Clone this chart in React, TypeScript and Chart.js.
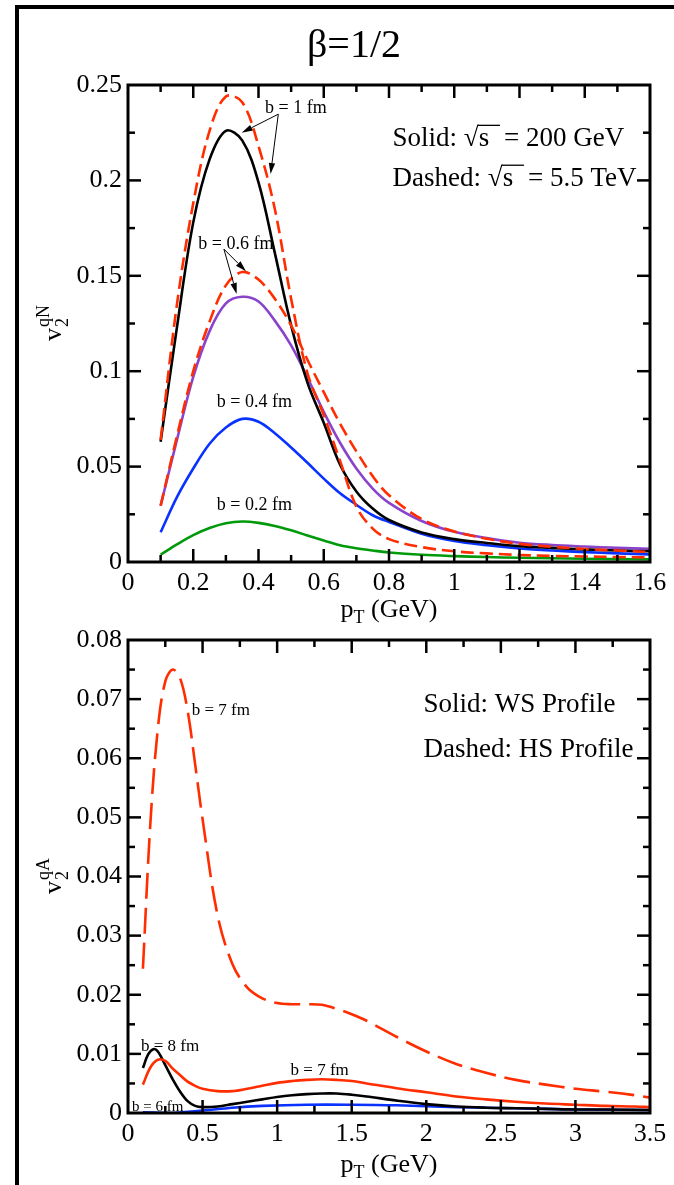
import React, { useEffect, useRef } from "react";
import { Chart, registerables } from "chart.js";

Chart.register(...registerables);

const SERIF = '"Liberation Serif", "Times New Roman", Times, serif';
const PAGE_W = 674;
const PAGE_H = 1185;
const PLOT_LEFT = 128;
const PLOT_RIGHT = 650;

// ---------------- Top panel: v2^qN vs pT ----------------
const ptTop = [0.1, 0.15, 0.2, 0.25, 0.3, 0.35, 0.4, 0.45, 0.5, 0.55, 0.6, 0.65, 0.7, 0.75, 0.8, 0.9, 1.0, 1.1, 1.2, 1.3, 1.4, 1.5, 1.6];
const v2SolidB1 = [0.063, 0.123, 0.178, 0.211, 0.226, 0.221, 0.199, 0.162, 0.124, 0.094, 0.073, 0.051, 0.037, 0.028, 0.022, 0.0155, 0.012, 0.01, 0.0083, 0.0074, 0.0066, 0.006, 0.0056];
const v2DashedB1 = [0.064, 0.135, 0.188, 0.226, 0.244, 0.241, 0.218, 0.185, 0.138, 0.099, 0.077, 0.053, 0.029, 0.0175, 0.012, 0.0078, 0.0056, 0.0045, 0.0037, 0.0032, 0.0029, 0.0026, 0.0024];
const v2SolidB06 = [0.0295, 0.064, 0.097, 0.121, 0.1355, 0.139, 0.1365, 0.1265, 0.1135, 0.0967, 0.0787, 0.0625, 0.049, 0.0385, 0.031, 0.0215, 0.0158, 0.0125, 0.0101, 0.0089, 0.0081, 0.0074, 0.0069];
const v2DashedB06 = [0.0295, 0.066, 0.1, 0.126, 0.145, 0.152, 0.148, 0.138, 0.124, 0.106, 0.089, 0.0725, 0.058, 0.045, 0.035, 0.0225, 0.016, 0.0122, 0.0095, 0.008, 0.0068, 0.006, 0.0053];
const v2SolidB04 = [0.0156, 0.034, 0.049, 0.062, 0.0705, 0.075, 0.0735, 0.0675, 0.06, 0.052, 0.0437, 0.036, 0.03, 0.0245, 0.021, 0.0148, 0.011, 0.0088, 0.0071, 0.006, 0.0052, 0.0045, 0.004];
const v2SolidB02 = [0.0038, 0.0092, 0.0141, 0.0178, 0.0203, 0.0212, 0.0205, 0.0189, 0.0166, 0.0139, 0.0113, 0.0088, 0.0072, 0.006, 0.005, 0.0038, 0.0031, 0.0026, 0.0022, 0.002, 0.0017, 0.0015, 0.0014];

const topXTicks = [0, 0.2, 0.4, 0.6, 0.8, 1, 1.2, 1.4, 1.6];
const topXLabels = ["0", "0.2", "0.4", "0.6", "0.8", "1", "1.2", "1.4", "1.6"];
const topYTicks = [0, 0.05, 0.1, 0.15, 0.2, 0.25];
const topYLabels = ["0", "0.05", "0.1", "0.15", "0.2", "0.25"];

// ---------------- Bottom panel: v2^qA vs pT ----------------
const ptHSb7 = [0.1, 0.15, 0.2, 0.25, 0.3, 0.35, 0.4, 0.45, 0.5, 0.6, 0.7, 0.8, 0.9, 1.0, 1.1, 1.2, 1.3, 1.4, 1.5, 1.6, 1.8, 2.0, 2.2, 2.4, 2.6, 2.8, 3.0, 3.2, 3.4, 3.5];
const v2HSb7 = [0.0244, 0.049, 0.065, 0.073, 0.075, 0.0735, 0.068, 0.059, 0.0497, 0.0335, 0.0252, 0.0212, 0.0194, 0.0186, 0.0184, 0.0184, 0.0183, 0.0176, 0.0167, 0.0156, 0.0129, 0.0104, 0.0083, 0.0068, 0.0056, 0.0048, 0.0041, 0.0036, 0.003, 0.0026];
const ptWSb7 = [0.1, 0.15, 0.2, 0.25, 0.3, 0.35, 0.4, 0.45, 0.5, 0.6, 0.7, 0.8, 0.9, 1.0, 1.1, 1.2, 1.3, 1.4, 1.5, 1.6, 1.8, 2.0, 2.2, 2.4, 2.6, 2.8, 3.0, 3.2, 3.4, 3.5];
const v2WSb7 = [0.0048, 0.0077, 0.009, 0.0088, 0.0075, 0.0064, 0.0053, 0.0046, 0.0041, 0.0037, 0.0037, 0.0041, 0.0046, 0.0051, 0.0054, 0.0056, 0.0057, 0.0056, 0.0054, 0.005, 0.0042, 0.0035, 0.0028, 0.0023, 0.0019, 0.0016, 0.0014, 0.0012, 0.0011, 0.001];
const ptWSb8 = [0.1, 0.135, 0.17, 0.2, 0.25, 0.3, 0.35, 0.4, 0.45, 0.5, 0.6, 0.7, 0.8, 0.9, 1.0, 1.1, 1.2, 1.3, 1.4, 1.5, 1.6, 1.8, 2.0, 2.2, 2.4, 2.6, 2.8, 3.0, 3.2, 3.5];
const v2WSb8 = [0.0076, 0.0099, 0.0108, 0.0104, 0.0081, 0.0057, 0.0036, 0.002, 0.0012, 0.001, 0.0011, 0.0015, 0.0019, 0.0023, 0.0027, 0.003, 0.0032, 0.0033, 0.0033, 0.0031, 0.0028, 0.0021, 0.0015, 0.0011, 0.0009, 0.0008, 0.0007, 0.0006, 0.0006, 0.0005];
const ptWSb6 = [0.1, 0.3, 0.5, 0.7, 0.9, 1.2, 1.5, 1.8, 2.2, 2.6, 3.0, 3.5];
const v2WSb6 = [0.0001, 0.0, 0.0004, 0.0009, 0.0012, 0.0014, 0.0014, 0.0013, 0.001, 0.0008, 0.0006, 0.0005];

const botXTicks = [0, 0.5, 1, 1.5, 2, 2.5, 3, 3.5];
const botXLabels = ["0", "0.5", "1", "1.5", "2", "2.5", "3", "3.5"];
const botYTicks = [0, 0.01, 0.02, 0.03, 0.04, 0.05, 0.06, 0.07, 0.08];
const botYLabels = ["0", "0.01", "0.02", "0.03", "0.04", "0.05", "0.06", "0.07", "0.08"];

// ---------------- text annotations (data coords) ----------------
type Note = { text: string; x: number; y: number; size: number };
type Arrow = { x0: number; y0: number; x1: number; y1: number };

const topNotes: Note[] = [
  { text: "b = 1 fm", x: 0.42, y: 0.2355, size: 18 },
  { text: "b = 0.6 fm", x: 0.2156, y: 0.164, size: 18 },
  { text: "b = 0.4 fm", x: 0.272, y: 0.081, size: 18 },
  { text: "b = 0.2 fm", x: 0.272, y: 0.027, size: 18 },
];
const topArrows: Arrow[] = [
  { x0: 0.4607, y0: 0.2347, x1: 0.3485, y1: 0.225 },
  { x0: 0.4607, y0: 0.2347, x1: 0.437, y1: 0.2033 },
  { x0: 0.294, y0: 0.164, x1: 0.3617, y1: 0.1524 },
  { x0: 0.294, y0: 0.164, x1: 0.333, y1: 0.1405 },
];
const botNotes: Note[] = [
  { text: "b = 7 fm", x: 0.427, y: 0.0673, size: 17 },
  { text: "b = 8 fm", x: 0.087, y: 0.0105, size: 17 },
  { text: "b = 7 fm", x: 1.09, y: 0.0065, size: 17 },
  { text: "b = 6 fm", x: 0.027, y: 0.0003, size: 15 },
];

const RED = "#ff2d00";
const PURPLE = "#8a44cc";
const BLUE = "#0a32ff";
const GREEN = "#00990a";

const pts = (xs: number[], ys: number[]) => xs.map((x, i) => ({ x, y: ys[i] }));

function line(label: string, xs: number[], ys: number[], color: string, dash: number[] = []) {
  return {
    label,
    data: pts(xs, ys),
    borderColor: color,
    backgroundColor: color,
    borderWidth: 2.6,
    borderDash: dash,
    pointRadius: 0,
    fill: false,
    tension: 0.35,
  };
}

function drawArrow(ctx: CanvasRenderingContext2D, x0: number, y0: number, x1: number, y1: number) {
  const a = Math.atan2(y1 - y0, x1 - x0);
  const L = 11;
  const hw = 3.2;
  const bx = x1 - L * Math.cos(a);
  const by = y1 - L * Math.sin(a);
  ctx.lineWidth = 1;
  ctx.beginPath();
  ctx.moveTo(x0, y0);
  ctx.lineTo(bx, by);
  ctx.stroke();
  ctx.beginPath();
  ctx.moveTo(x1, y1);
  ctx.lineTo(bx + hw * Math.sin(a), by - hw * Math.cos(a));
  ctx.lineTo(bx - hw * Math.sin(a), by + hw * Math.cos(a));
  ctx.closePath();
  ctx.fill();
}

type Part = { t: string; size: number; dy?: number };
function drawParts(ctx: CanvasRenderingContext2D, parts: Part[], x: number, y: number, center: boolean) {
  let w = 0;
  for (const p of parts) {
    ctx.font = `${p.size}px ${SERIF}`;
    w += ctx.measureText(p.t).width;
  }
  let cx = center ? x - w / 2 : x;
  for (const p of parts) {
    ctx.font = `${p.size}px ${SERIF}`;
    ctx.fillText(p.t, cx, y + (p.dy || 0));
    cx += ctx.measureText(p.t).width;
  }
}

function drawYTitle(ctx: CanvasRenderingContext2D, sup: string, cx: number, cy: number) {
  ctx.save();
  ctx.font = `26px ${SERIF}`;
  const vw = ctx.measureText("v").width;
  ctx.font = `18px ${SERIF}`;
  const sw = Math.max(ctx.measureText("2").width, ctx.measureText(sup).width);
  const total = vw + sw;
  ctx.translate(cx, cy);
  ctx.rotate(-Math.PI / 2);
  ctx.textBaseline = "alphabetic";
  ctx.textAlign = "left";
  const x0 = -total / 2;
  ctx.font = `26px ${SERIF}`;
  ctx.fillText("v", x0, 0);
  ctx.font = `18px ${SERIF}`;
  ctx.fillText("2", x0 + vw + 1, 7);
  ctx.fillText(sup, x0 + vw + 1, -12);
  ctx.restore();
}

function drawSqrtLegend(ctx: CanvasRenderingContext2D, x: number, y: number, pre: string, post: string, size: number) {
  ctx.font = `${size}px ${SERIF}`;
  ctx.textBaseline = "alphabetic";
  ctx.textAlign = "left";
  ctx.fillText(pre, x, y);
  let cx = x + ctx.measureText(pre).width;
  ctx.fillText("\u221A", cx, y);
  cx += ctx.measureText("\u221A").width;
  ctx.fillText("s", cx, y);
  const sEnd = cx + ctx.measureText("s").width;
  const oy = y - size * 0.76;
  ctx.lineWidth = 1.3;
  ctx.beginPath();
  ctx.moveTo(cx - 1, oy);
  ctx.lineTo(sEnd + size * 0.4, oy);
  ctx.stroke();
  ctx.fillText(post, sEnd + size * 0.55, y);
}

function frameAndTicks(chart: any, xTicks: number[], yTicks: number[]) {
  const { ctx, chartArea: a, scales } = chart;
  const xs = scales.x;
  const ys = scales.y;
  ctx.save();
  ctx.strokeStyle = "#000";
  ctx.fillStyle = "#000";
  ctx.lineWidth = 3;
  ctx.strokeRect(a.left, a.top, a.right - a.left, a.bottom - a.top);
  ctx.lineWidth = 2.5;
  const MAJ = 13;
  const MIN = 7;
  const tick = (x0: number, y0: number, x1: number, y1: number) => {
    ctx.beginPath();
    ctx.moveTo(x0, y0);
    ctx.lineTo(x1, y1);
    ctx.stroke();
  };
  const withMinor = (arr: number[]) => {
    const out: { v: number; major: boolean }[] = [];
    arr.forEach((v, i) => {
      out.push({ v, major: true });
      if (i < arr.length - 1) out.push({ v: (v + arr[i + 1]) / 2, major: false });
    });
    return out;
  };
  for (const t of withMinor(xTicks)) {
    const px = xs.getPixelForValue(t.v);
    if (px <= a.left + 2 || px >= a.right - 2) continue;
    const L = t.major ? MAJ : MIN;
    tick(px, a.bottom, px, a.bottom - L);
    tick(px, a.top, px, a.top + L);
  }
  for (const t of withMinor(yTicks)) {
    const py = ys.getPixelForValue(t.v);
    if (py <= a.top + 2 || py >= a.bottom - 2) continue;
    const L = t.major ? MAJ : MIN;
    tick(a.left, py, a.left + L, py);
    tick(a.right, py, a.right - L, py);
  }
  ctx.restore();
}

function drawNotes(chart: any, notes: Note[], arrows: Arrow[]) {
  const { ctx, scales } = chart;
  ctx.save();
  ctx.fillStyle = "#000";
  ctx.strokeStyle = "#000";
  ctx.textBaseline = "alphabetic";
  ctx.textAlign = "left";
  for (const n of notes) {
    ctx.font = `${n.size}px ${SERIF}`;
    ctx.fillText(n.text, scales.x.getPixelForValue(n.x), scales.y.getPixelForValue(n.y));
  }
  for (const ar of arrows) {
    drawArrow(
      ctx,
      scales.x.getPixelForValue(ar.x0),
      scales.y.getPixelForValue(ar.y0),
      scales.x.getPixelForValue(ar.x1),
      scales.y.getPixelForValue(ar.y1)
    );
  }
  ctx.restore();
}

const topDecor = {
  id: "topDecor",
  afterDraw(chart: any) {
    const { ctx, chartArea: a, scales } = chart;
    // page frame
    ctx.save();
    ctx.fillStyle = "#000";
    ctx.fillRect(15, 5, 4, PAGE_H);
    ctx.fillRect(15, 5, PAGE_W, 4);
    // title
    ctx.font = `40px ${SERIF}`;
    ctx.textAlign = "center";
    ctx.textBaseline = "alphabetic";
    ctx.fillText("\u03B2=1/2", 354, 57);
    ctx.restore();

    frameAndTicks(chart, topXTicks, topYTicks);
    drawNotes(chart, topNotes, topArrows);

    ctx.save();
    ctx.fillStyle = "#000";
    ctx.strokeStyle = "#000";
    ctx.textAlign = "left";
    ctx.textBaseline = "alphabetic";
    const lx = scales.x.getPixelForValue(0.811);
    drawSqrtLegend(ctx, lx, scales.y.getPixelForValue(0.2181), "Solid: ", "= 200 GeV", 27);
    drawSqrtLegend(ctx, lx, scales.y.getPixelForValue(0.1972), "Dashed: ", "= 5.5 TeV", 27);
    // axis titles
    drawParts(ctx, [{ t: "p", size: 26 }, { t: "T", size: 18, dy: 6 }, { t: " (GeV)", size: 26 }], (a.left + a.right) / 2, 617, true);
    drawYTitle(ctx, "qN", 61, (a.top + a.bottom) / 2);
    ctx.restore();
  },
};

const botDecor = {
  id: "botDecor",
  afterDraw(chart: any) {
    const { ctx, chartArea: a, scales } = chart;
    frameAndTicks(chart, botXTicks, botYTicks);
    drawNotes(chart, botNotes, []);
    ctx.save();
    ctx.fillStyle = "#000";
    ctx.textAlign = "left";
    ctx.textBaseline = "alphabetic";
    ctx.font = `27px ${SERIF}`;
    const lx = scales.x.getPixelForValue(1.981);
    ctx.fillText("Solid: WS Profile", lx, scales.y.getPixelForValue(0.0679));
    ctx.fillText("Dashed: HS Profile", lx, scales.y.getPixelForValue(0.0602));
    drawParts(ctx, [{ t: "p", size: 26 }, { t: "T", size: 18, dy: 6 }, { t: " (GeV)", size: 26 }], (a.left + a.right) / 2, 1172, true);
    drawYTitle(ctx, "qA", 61, (a.top + a.bottom) / 2);
    ctx.restore();
  },
};

type PanelSpec = {
  datasets: any[];
  xMin: number;
  xMax: number;
  yMin: number;
  yMax: number;
  xTicks: number[];
  xLabels: string[];
  yTicks: number[];
  yLabels: string[];
  top: number;
  bottom: number;
  plugin: any;
};

function buildChart(canvas: HTMLCanvasElement, p: PanelSpec) {
  const font = { family: SERIF, size: 26 };
  return new Chart(canvas, {
    type: "line",
    data: { datasets: p.datasets },
    options: {
      animation: false,
      responsive: false,
      devicePixelRatio: 1,
      events: [],
      layout: { padding: { top: p.top, right: PAGE_W - PLOT_RIGHT, left: 0, bottom: 0 } },
      plugins: { legend: { display: false }, tooltip: { enabled: false }, title: { display: false } },
      scales: {
        x: {
          type: "linear",
          min: p.xMin,
          max: p.xMax,
          grid: { display: false, drawTicks: false },
          border: { display: false },
          ticks: {
            font,
            color: "#000",
            padding: 6,
            maxRotation: 0,
            autoSkip: false,
            callback: (_v: any, i: number) => p.xLabels[i] ?? "",
          },
          afterBuildTicks: (s: any) => {
            s.ticks = p.xTicks.map((v) => ({ value: v }));
          },
          afterFit: (s: any) => {
            s.height = PAGE_H - p.bottom;
          },
        },
        y: {
          type: "linear",
          min: p.yMin,
          max: p.yMax,
          grid: { display: false, drawTicks: false },
          border: { display: false },
          ticks: {
            font,
            color: "#000",
            padding: 6,
            autoSkip: false,
            callback: (_v: any, i: number) => p.yLabels[i] ?? "",
          },
          afterBuildTicks: (s: any) => {
            s.ticks = p.yTicks.map((v) => ({ value: v }));
          },
          afterFit: (s: any) => {
            s.width = PLOT_LEFT;
          },
        },
      },
    } as any,
    plugins: [p.plugin],
  });
}

export default function App() {
  const topRef = useRef<HTMLCanvasElement>(null);
  const botRef = useRef<HTMLCanvasElement>(null);

  useEffect(() => {
    const dashTop = [13, 6];
    const dashBot = [26, 9];
    const top = buildChart(topRef.current!, {
      datasets: [
        line("b=1 fm, 5.5 TeV", ptTop, v2DashedB1, RED, dashTop),
        line("b=0.6 fm, 5.5 TeV", ptTop, v2DashedB06, RED, dashTop),
        line("b=1 fm, 200 GeV", ptTop, v2SolidB1, "#000"),
        line("b=0.6 fm, 200 GeV", ptTop, v2SolidB06, PURPLE),
        line("b=0.4 fm, 200 GeV", ptTop, v2SolidB04, BLUE),
        line("b=0.2 fm, 200 GeV", ptTop, v2SolidB02, GREEN),
      ],
      xMin: 0,
      xMax: 1.6,
      yMin: 0,
      yMax: 0.25,
      xTicks: topXTicks,
      xLabels: topXLabels,
      yTicks: topYTicks,
      yLabels: topYLabels,
      top: 85,
      bottom: 562,
      plugin: topDecor,
    });
    const bot = buildChart(botRef.current!, {
      datasets: [
        line("HS b=7 fm", ptHSb7, v2HSb7, RED, dashBot),
        line("WS b=7 fm", ptWSb7, v2WSb7, RED),
        line("WS b=8 fm", ptWSb8, v2WSb8, "#000"),
        line("WS b=6 fm", ptWSb6, v2WSb6, BLUE),
      ],
      xMin: 0,
      xMax: 3.5,
      yMin: 0,
      yMax: 0.08,
      xTicks: botXTicks,
      xLabels: botXLabels,
      yTicks: botYTicks,
      yLabels: botYLabels,
      top: 640,
      bottom: 1113,
      plugin: botDecor,
    });
    return () => {
      top.destroy();
      bot.destroy();
    };
  }, []);

  const cs: React.CSSProperties = { position: "absolute", left: 0, top: 0, width: PAGE_W, height: PAGE_H };
  return (
    <div style={{ position: "absolute", left: 0, top: 0, width: PAGE_W, height: PAGE_H, background: "#fff", overflow: "hidden" }}>
      <canvas ref={topRef} width={PAGE_W} height={PAGE_H} style={cs} />
      <canvas ref={botRef} width={PAGE_W} height={PAGE_H} style={cs} />
    </div>
  );
}
